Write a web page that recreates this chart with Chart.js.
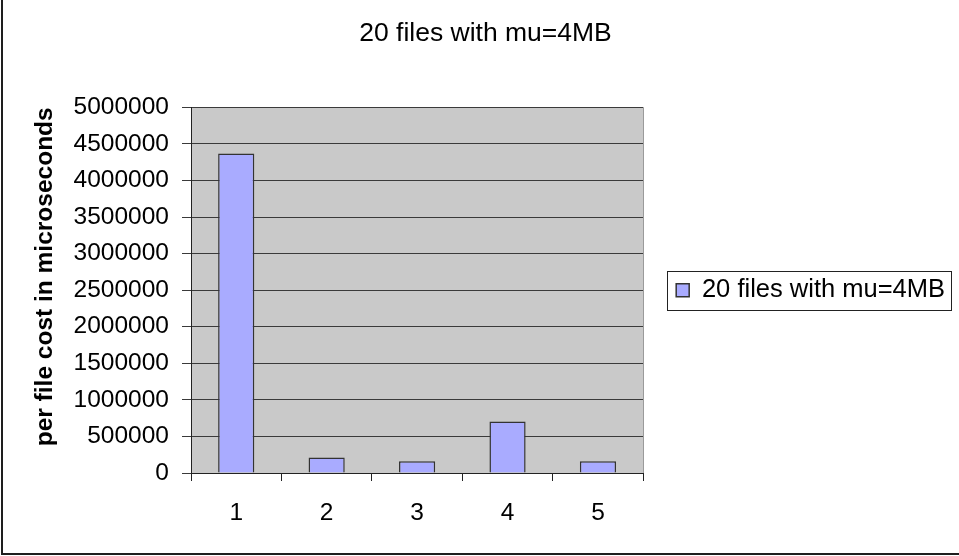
<!DOCTYPE html>
<html>
<head>
<meta charset="utf-8">
<title>20 files with mu=4MB</title>
<script src="https://cdn.jsdelivr.net/npm/chart.js@4/dist/chart.umd.min.js"></script>
<style>
  html, body { margin: 0; padding: 0; background: #ffffff; }
  #wrap { width: 959px; height: 556px; }
</style>
</head>
<body>
<div id="wrap"><canvas id="chart" width="959" height="556"></canvas></div>
<script>
// Per-file cost for each run
const categories = ['1', '2', '3', '4', '5'];
const seriesName = '20 files with mu=4MB';
const perFileCost = [4370000, 213000, 160000, 705000, 160000];
const yTicks = [0, 500000, 1000000, 1500000, 2000000, 2500000, 3000000, 3500000, 4000000, 4500000, 5000000];

const FONT = '"Liberation Sans", Arial, sans-serif';

// Grey plot background, right edge of the plot, legend frame and outer frame
const decorations = {
  id: 'decorations',
  beforeDraw(chart) {
    const { ctx, chartArea: a } = chart;
    ctx.save();
    ctx.fillStyle = '#c9c9c9';
    ctx.fillRect(a.left, a.top, a.right - a.left, a.bottom - a.top);
    ctx.restore();
  },
  afterDraw(chart) {
    const { ctx, chartArea: a, width, height } = chart;
    ctx.save();
    // right edge of the plot
    ctx.strokeStyle = '#9a9a9a';
    ctx.lineWidth = 1;
    ctx.beginPath();
    ctx.moveTo(Math.round(a.right) + 0.5, a.top);
    ctx.lineTo(Math.round(a.right) + 0.5, a.bottom);
    ctx.stroke();

    // frame round the legend
    const lg = chart.legend;
    if (lg && lg.legendHitBoxes && lg.legendHitBoxes.length) {
      const hb = lg.legendHitBoxes[0];
      const cy = (a.top + a.bottom) / 2;
      const x0 = Math.round(hb.left - 9) + 0.5;
      const x1 = width - 7.5;
      const y0 = Math.round(cy - 19.5) + 0.5;
      const y1 = Math.round(cy + 19.5) + 0.5;
      ctx.strokeStyle = '#222222';
      ctx.lineWidth = 1;
      ctx.strokeRect(x0, y0, x1 - x0, y1 - y0);
    }

    // outer frame (left and bottom edges)
    ctx.strokeStyle = '#1e1e1e';
    ctx.lineWidth = 2;
    ctx.beginPath();
    ctx.moveTo(2, 0);
    ctx.lineTo(2, height - 2);
    ctx.lineTo(width, height - 2);
    ctx.stroke();
    ctx.restore();
  }
};

new Chart(document.getElementById('chart'), {
  type: 'bar',
  data: {
    labels: categories,
    datasets: [{
      label: seriesName,
      data: perFileCost,
      backgroundColor: '#a9abff',
      borderColor: '#333333',
      borderWidth: 1.5,
      categoryPercentage: 1.0,
      barPercentage: 0.4
    }]
  },
  options: {
    responsive: false,
    animation: false,
    devicePixelRatio: 1,
    layout: { padding: { left: 16, right: 4, top: 0, bottom: 0 } },
    plugins: {
      title: {
        display: true,
        text: seriesName,
        color: '#000000',
        font: { family: FONT, size: 26.5, weight: 'normal' },
        padding: { top: 18, bottom: 57.5 }
      },
      legend: {
        display: true,
        position: 'right',
        fullSize: false,
        maxWidth: 400,
        labels: {
          color: '#000000',
          font: { family: FONT, size: 25.5 },
          boxWidth: 13,
          boxHeight: 13,
          padding: 33
        }
      },
      tooltip: { enabled: false }
    },
    scales: {
      x: {
        type: 'category',
        offset: true,
        grid: {
          offset: true,
          drawOnChartArea: false,
          drawTicks: true,
          tickLength: 8,
          color: '#222222'
        },
        border: { display: true, color: '#222222', width: 1 },
        ticks: {
          color: '#000000',
          font: { family: FONT, size: 24.5 },
          padding: 18,
          maxRotation: 0
        },
        afterFit(scale) { scale.height = 83; }
      },
      y: {
        min: 0,
        max: 5000000,
        afterBuildTicks(scale) { scale.ticks = yTicks.map(v => ({ value: v })); },
        grid: {
          color: '#3a3a3a',
          lineWidth: 1,
          drawTicks: true,
          tickLength: 9
        },
        border: { display: true, color: '#222222', width: 1 },
        ticks: {
          color: '#000000',
          font: { family: FONT, size: 24.5 },
          padding: 13,
          callback: (v) => String(v)
        },
        title: {
          display: true,
          align: 'end',
          text: 'per file cost in microseconds',
          color: '#000000',
          font: { family: FONT, size: 24.5, weight: 'bold' },
          padding: { top: 15, bottom: 0 }
        },
        afterFit(scale) { scale.width = 175; }
      }
    }
  },
  plugins: [decorations]
});
</script>
</body>
</html>
